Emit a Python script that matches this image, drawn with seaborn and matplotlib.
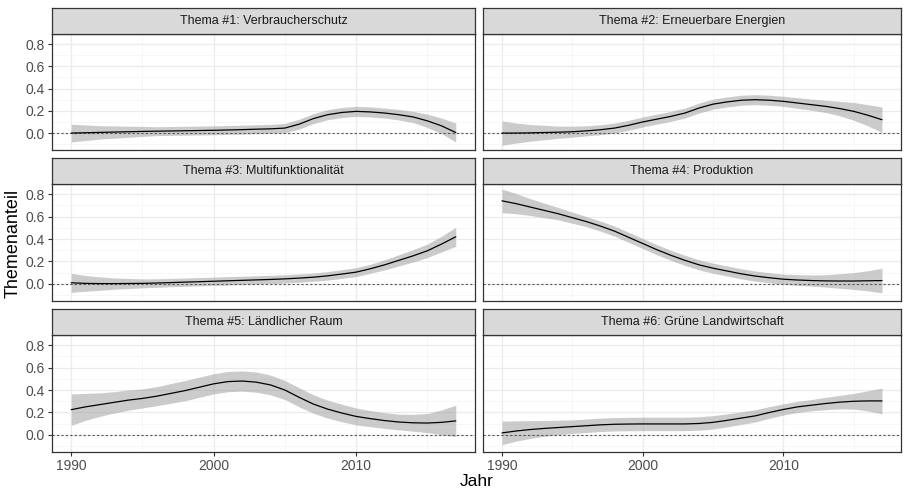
import numpy as np
import pandas as pd
import matplotlib
matplotlib.use("Agg")
import matplotlib.pyplot as plt
import seaborn as sns

sns.set_style("white")
plt.rcParams['font.family'] = ['Liberation Sans', 'DejaVu Sans']

years = list(range(1990, 2018))

titles = [
    "Thema #1: Verbraucherschutz",
    "Thema #2: Erneuerbare Energien",
    "Thema #3: Multifunktionalität",
    "Thema #4: Produktion",
    "Thema #5: Ländlicher Raum",
    "Thema #6: Grüne Landwirtschaft",
]

fit_1 = [0.000, 0.003, 0.006, 0.009, 0.012, 0.015, 0.017, 0.019, 0.021, 0.023,
         0.025, 0.028, 0.031, 0.035, 0.038, 0.045, 0.080, 0.130, 0.165, 0.185,
         0.195, 0.190, 0.180, 0.165, 0.145, 0.110, 0.065, 0.005]
se_1 = [0.080, 0.070, 0.060, 0.055, 0.050, 0.045, 0.040, 0.040, 0.040, 0.040,
        0.040, 0.040, 0.040, 0.040, 0.040, 0.042, 0.044, 0.045, 0.045, 0.045,
        0.045, 0.045, 0.045, 0.047, 0.050, 0.060, 0.070, 0.085]

fit_2 = [0.000, 0.000, 0.002, 0.005, 0.008, 0.012, 0.020, 0.030, 0.045, 0.070,
         0.100, 0.125, 0.150, 0.180, 0.225, 0.260, 0.280, 0.295, 0.300, 0.295,
         0.285, 0.270, 0.255, 0.240, 0.220, 0.195, 0.160, 0.120]
se_2 = [0.110, 0.090, 0.075, 0.065, 0.055, 0.050, 0.045, 0.045, 0.045, 0.045,
        0.045, 0.045, 0.045, 0.045, 0.045, 0.045, 0.045, 0.045, 0.045, 0.045,
        0.045, 0.048, 0.050, 0.055, 0.065, 0.080, 0.095, 0.115]

fit_3 = [0.010, 0.005, 0.003, 0.003, 0.004, 0.005, 0.008, 0.012, 0.016, 0.020,
         0.024, 0.028, 0.032, 0.036, 0.040, 0.045, 0.052, 0.060, 0.072, 0.088,
         0.105, 0.135, 0.170, 0.210, 0.250, 0.295, 0.355, 0.420]
se_3 = [0.085, 0.070, 0.060, 0.050, 0.045, 0.040, 0.038, 0.037, 0.037, 0.037,
        0.037, 0.037, 0.037, 0.037, 0.037, 0.037, 0.037, 0.037, 0.038, 0.039,
        0.040, 0.040, 0.045, 0.050, 0.055, 0.060, 0.070, 0.085]

fit_4 = [0.740, 0.715, 0.685, 0.655, 0.625, 0.590, 0.555, 0.515, 0.470, 0.415,
         0.360, 0.305, 0.255, 0.210, 0.170, 0.140, 0.115, 0.090, 0.070, 0.055,
         0.042, 0.035, 0.030, 0.027, 0.026, 0.026, 0.028, 0.030]
se_4 = [0.105, 0.090, 0.075, 0.065, 0.055, 0.050, 0.045, 0.045, 0.045, 0.045,
        0.045, 0.045, 0.045, 0.045, 0.045, 0.045, 0.045, 0.045, 0.045, 0.045,
        0.045, 0.048, 0.050, 0.055, 0.065, 0.075, 0.090, 0.110]

fit_5 = [0.225, 0.250, 0.270, 0.290, 0.310, 0.325, 0.345, 0.370, 0.395, 0.425,
         0.455, 0.475, 0.480, 0.470, 0.445, 0.400, 0.335, 0.275, 0.230, 0.195,
         0.165, 0.145, 0.128, 0.115, 0.108, 0.106, 0.112, 0.125]
se_5 = [0.140, 0.120, 0.105, 0.095, 0.090, 0.085, 0.085, 0.088, 0.090, 0.090,
        0.090, 0.090, 0.090, 0.090, 0.088, 0.085, 0.085, 0.082, 0.080, 0.078,
        0.075, 0.072, 0.070, 0.070, 0.075, 0.085, 0.110, 0.140]

fit_6 = [0.018, 0.035, 0.048, 0.058, 0.066, 0.074, 0.082, 0.090, 0.095, 0.097,
         0.098, 0.098, 0.098, 0.098, 0.102, 0.112, 0.130, 0.150, 0.170, 0.200,
         0.227, 0.250, 0.265, 0.280, 0.292, 0.300, 0.303, 0.303]
se_6 = [0.105, 0.090, 0.080, 0.070, 0.065, 0.060, 0.060, 0.060, 0.060, 0.060,
        0.060, 0.060, 0.060, 0.060, 0.060, 0.060, 0.058, 0.056, 0.055, 0.052,
        0.050, 0.050, 0.050, 0.055, 0.060, 0.070, 0.090, 0.115]

fits = [fit_1, fit_2, fit_3, fit_4, fit_5, fit_6]
ses = [se_1, se_2, se_3, se_4, se_5, se_6]

y_ticks = [0.0, 0.2, 0.4, 0.6, 0.8]
y_tick_labels = ["0.0", "0.2", "0.4", "0.6", "0.8"]
x_ticks = [1990, 2000, 2010]
x_tick_labels = ["1990", "2000", "2010"]

W, H = 905, 492
fig = plt.figure(figsize=(W / 100, H / 100), dpi=100)

col_x = [(52, 475), (483, 901)]
row_y = [(34, 150), (184, 301), (335, 452)]
strip_h = 26

xlim = (1988.65, 2018.35)
ylim = (-0.152, 0.89)

dark = '#333333'

for i in range(6):
    r, c = divmod(i, 2)
    x0, x1 = col_x[c]
    y0, y1 = row_y[r]
    ax = fig.add_axes([x0 / W, 1 - y1 / H, (x1 - x0) / W, (y1 - y0) / H])
    df = pd.DataFrame({"Jahr": years, "fit": fits[i], "se": ses[i]})
    ax.fill_between(df["Jahr"], df["fit"] - df["se"], df["fit"] + df["se"],
                    color='#999999', alpha=0.5, linewidth=0, zorder=2)
    sns.lineplot(data=df, x="Jahr", y="fit", ax=ax, color='black', linewidth=0.9, zorder=3)
    ax.axhline(0, color='#555555', linestyle=(0, (2, 2)), linewidth=0.8, zorder=2.5)
    ax.set_xlim(*xlim)
    ax.set_ylim(*ylim)
    ax.set_xticks(x_ticks)
    ax.set_xticks([1995, 2005, 2015], minor=True)
    ax.set_yticks(y_ticks)
    ax.set_yticks([-0.1, 0.1, 0.3, 0.5, 0.7], minor=True)
    ax.grid(which='major', color='#EBEBEB', linewidth=0.9)
    ax.grid(which='minor', color='#F3F3F3', linewidth=0.5)
    ax.set_axisbelow(True)
    for s in ax.spines.values():
        s.set_color(dark)
        s.set_linewidth(0.9)
    ax.tick_params(which='major', length=3, width=0.8, color=dark,
                   labelsize=10, labelcolor='#4D4D4D', pad=2, left=True, bottom=True)
    ax.tick_params(which='minor', length=0)
    if c == 0:
        ax.set_yticklabels(y_tick_labels)
    else:
        ax.set_yticklabels([])
        ax.tick_params(axis='y', which='major', length=0)
    if r == 2:
        ax.set_xticklabels(x_tick_labels)
    else:
        ax.set_xticklabels([])
        ax.tick_params(axis='x', which='major', length=0)
    ax.set_xlabel("")
    ax.set_ylabel("")

    sax = fig.add_axes([x0 / W, 1 - y0 / H, (x1 - x0) / W, strip_h / H])
    sax.set_facecolor('#D9D9D9')
    sax.set_xticks([])
    sax.set_yticks([])
    for s in sax.spines.values():
        s.set_color(dark)
        s.set_linewidth(0.9)
    sax.text(0.5, 0.5, titles[i], ha='center', va='center', fontsize=9,
             color='#1A1A1A', transform=sax.transAxes)

fig.text(13 / W, 1 - 243 / H, "Themenanteil", rotation=90, ha='center', va='center',
         fontsize=13, color='black')
fig.text(477 / W, 1 - 482 / H, "Jahr", ha='center', va='center', fontsize=12.5, color='black')

fig.savefig("out.png", dpi=100, facecolor='white')
